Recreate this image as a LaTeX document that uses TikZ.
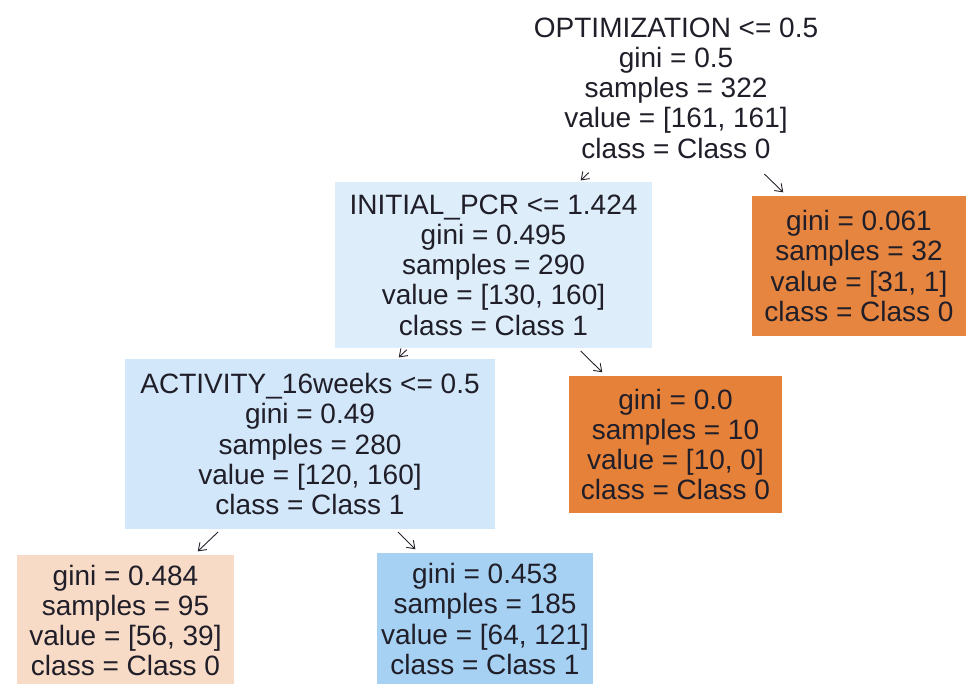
\documentclass[tikz,border=0pt]{standalone}
\usepackage{fontspec}
\setmainfont{Liberation Sans}
\usetikzlibrary{arrows.meta}
\definecolor{txt}{RGB}{32,30,40}
\definecolor{c0full}{RGB}{229,129,57}
\definecolor{c0a}{RGB}{230,133,63}
\definecolor{c0light}{RGB}{248,219,198}
\definecolor{c1a}{RGB}{221,237,250}
\definecolor{c1b}{RGB}{210,231,249}
\definecolor{c1c}{RGB}{166,209,243}
\definecolor{arr}{RGB}{40,35,45}
\tikzset{
  tn/.style={align=center, inner sep=0pt, text=txt,
    font=\fontsize{28}{30.3}\selectfont},
  edge/.style={draw=arr, line width=0.9pt,
    -{Straight Barb[length=7pt,width=10pt,line width=0.9pt]},
    shorten <=4pt, shorten >=5pt}
}
\begin{document}
\begin{tikzpicture}[x=1pt,y=-1pt]
\useasboundingbox (0,0) rectangle (968,683);
\fill[white] (0,0) rectangle (968,683);

\node[tn, fill=white, minimum width=310pt, minimum height=166pt] (root) at (676,88)
  {OPTIMIZATION <= 0.5\\gini = 0.5\\samples = 322\\value = [161, 161]\\class = Class 0};
\node[tn, fill=c1a, minimum width=317pt, minimum height=166pt] (init) at (493.5,265)
  {INITIAL\_PCR <= 1.424\\gini = 0.495\\samples = 290\\value = [130, 160]\\class = Class 1};
\node[tn, fill=c0a, minimum width=214pt, minimum height=140pt] (leafA) at (859,266)
  {gini = 0.061\\samples = 32\\value = [31, 1]\\class = Class 0};
\node[tn, fill=c1b, minimum width=370pt, minimum height=170pt] (act) at (310,444)
  {ACTIVITY\_16weeks <= 0.5\\gini = 0.49\\samples = 280\\value = [120, 160]\\class = Class 1};
\node[tn, fill=c0full, minimum width=213pt, minimum height=137pt] (leafB) at (675.5,444.5)
  {gini = 0.0\\samples = 10\\value = [10, 0]\\class = Class 0};
\node[tn, fill=c0light, minimum width=217pt, minimum height=131pt] (leafC) at (125.5,620.5)
  {gini = 0.484\\samples = 95\\value = [56, 39]\\class = Class 0};
\node[tn, fill=c1c, minimum width=216pt, minimum height=132pt] (leafD) at (485,619)
  {gini = 0.453\\samples = 185\\value = [64, 121]\\class = Class 1};

\draw[edge, shorten <=2pt, shorten >=2pt] (root) -- (init);
\draw[edge] (root) -- (leafA);
\draw[edge, shorten <=2pt, shorten >=2pt] (init) -- (act);
\draw[edge] (init) -- (leafB);
\draw[edge] (act) -- (leafC);
\draw[edge] (act) -- (leafD);
\end{tikzpicture}
\end{document}
